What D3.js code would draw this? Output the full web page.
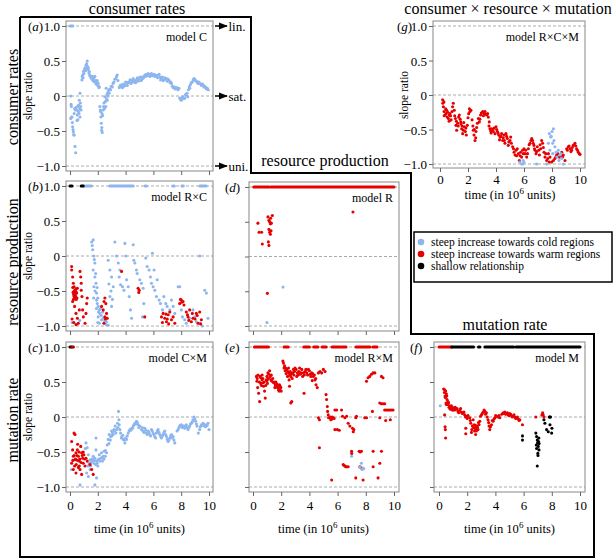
<!DOCTYPE html>
<html><head><meta charset="utf-8">
<script src="https://cdn.jsdelivr.net/npm/d3@7"></script>
<style>body{margin:0;background:#fff}svg text{font-family:"Liberation Serif","DejaVu Serif",serif;fill:#000}</style>
</head><body><svg id="c" width="613" height="559"></svg>
<script>
const xTicks=[0,2,4,6,8,10];
const yTicks=[-1,-0.5,0,0.5,1];
const yTickLabels=["\u22121.0","\u22120.5","0","0.5","1.0"];
const refLines=[-1,0,1];
const legendLabels=["steep increase towards cold regions","steep increase towards warm regions","shallow relationship"];

// (a) model C
const aBlue=[[0.05,0.0],[0.08,-0.12],[0.1,-0.15],[0.12,-0.3],[0.14,-0.3],[0.05,-0.32],[0.17,-0.38],[0.19,-0.44],[0.22,-0.48],[0.24,-0.51],[0.27,-0.55],[0.29,-0.56],[0.36,-0.72],[0.41,-0.81],[0.3,-0.25],[0.33,-0.18],[0.38,-0.2],[0.45,-0.16],[0.48,-0.2],[0.5,-0.35],[0.53,-0.27],[0.55,-0.15],[0.57,-0.34],[0.6,-0.22],[0.62,-0.13],[0.65,-0.25],[0.67,-0.06],[0.7,-0.18],[0.72,0.04],[0.75,-0.1],[0.77,-0.15],[0.72,-0.3],[0.8,-0.2],
[0.86,0.23],[0.88,0.28],[0.91,0.3],[0.94,0.26],[0.96,0.35],[1.0,0.32],[1.05,0.38],[1.08,0.4],[1.12,0.36],[1.15,0.44],[1.18,0.4],[1.2,0.46],[1.24,0.5],[1.27,0.42],[1.3,0.38],[1.32,0.4],[1.36,0.33],[1.39,0.35],[1.42,0.3],[1.44,0.29],[1.5,0.26],[1.56,0.25],[1.6,0.28],[1.64,0.22],[1.67,0.23],[1.72,0.26],[1.76,0.2],[1.79,0.28],[1.84,0.22],[1.88,0.17],[1.91,0.2],[1.96,0.22],[2.0,0.15],[2.03,0.18],[2.08,0.12],[2.11,0.13],
[2.15,-0.15],[2.18,-0.2],[2.2,-0.22],[2.22,-0.3],[2.25,-0.39],[2.27,-0.49],[2.29,-0.45],[2.32,-0.52],[2.3,-0.25],[2.35,-0.28],[2.39,-0.2],[2.42,-0.15],[2.44,-0.1],[2.48,-0.18],[2.51,-0.01],[2.55,-0.08],[2.58,-0.15],[2.6,0.11],[2.63,-0.04],[2.66,0.02],[2.68,-0.06],[2.72,0.05],[2.75,0.0],[2.78,0.08],[2.82,0.04],
[2.86,0.1],[2.92,0.09],[2.97,0.14],[3.04,0.13],[3.1,0.18],[3.16,0.2],[3.22,0.24],[3.3,0.25],[3.35,0.28],[3.4,0.3],[3.45,0.22],
[3.54,0.12],[3.6,0.15],[3.66,0.13],[3.71,0.16],[3.78,0.12],[3.85,0.17],[3.88,0.14],[3.95,0.15],[4.0,0.2],[4.07,0.18],[4.13,0.15],[4.2,0.2],[4.26,0.19],[4.32,0.23],[4.38,0.18],[4.43,0.22],[4.5,0.2],[4.55,0.25],[4.59,0.2],[4.66,0.22],[4.72,0.19],[4.78,0.23],[4.85,0.26],[4.9,0.21],[4.98,0.24],[5.05,0.27],[5.1,0.22],[5.14,0.23],[5.2,0.27],[5.25,0.25],[5.31,0.27],[5.38,0.3],[5.44,0.28],[5.5,0.31],[5.56,0.29],[5.62,0.32],[5.69,0.3],[5.75,0.28],[5.8,0.31],[5.86,0.32],[5.92,0.29],[5.98,0.3],[6.03,0.31],[6.1,0.28],[6.16,0.3],[6.22,0.29],[6.3,0.26],[6.36,0.3],[6.41,0.31],[6.48,0.27],[6.52,0.23],[6.58,0.25],[6.64,0.27],[6.7,0.22],[6.75,0.23],[6.82,0.26],[6.88,0.24],[6.94,0.25],[7.0,0.21],[7.06,0.24],[7.13,0.22],[7.2,0.19],[7.25,0.2],[7.3,0.18],[7.36,0.14],[7.42,0.12],[7.5,0.13],[7.56,0.1],[7.61,0.11],[7.68,0.12],[7.72,0.1],[7.78,0.09],[7.84,0.11],[7.89,-0.03],[7.95,-0.05],[8.01,-0.06],[8.07,-0.02],[8.13,-0.01],[8.19,-0.04],[8.25,-0.03],[8.31,0.02],[8.37,0.01],[8.42,0.04],[8.47,-0.01],[8.52,0.09],[8.58,0.13],[8.62,0.11],[8.66,0.16],[8.72,0.19],[8.8,0.2],[8.86,0.23],[8.92,0.25],[8.97,0.24],[9.03,0.22],[9.1,0.21],[9.14,0.2],[9.2,0.18],[9.27,0.2],[9.33,0.18],[9.4,0.17],[9.46,0.15],[9.52,0.17],[9.57,0.16],[9.63,0.13],[9.7,0.14],[9.76,0.12],[9.82,0.1],[9.88,0.11],[9.95,0.09]];
const aOnesBlue=[[0.0,0.2]];

// (b) model R x C
const bRed=[[0.12,-0.15],[0.12,-0.2],[0.19,-0.3],[0.24,-0.39],[0.29,-0.44],[0.36,-0.49],[0.43,-0.51],[0.48,-0.53],[0.53,-0.46],[0.38,-0.56],[0.29,-0.58],[0.19,-0.65],[0.33,-0.72],[0.43,-0.82],[0.6,-0.96],[0.53,-0.89],[0.67,-0.77],[0.72,-0.22],[0.77,-0.3],[0.81,-0.39],[0.81,-0.49],[0.86,-0.58],[0.91,-0.77],[0.96,-0.87],[1.08,-0.96],[1.15,-0.82],[1.24,-0.6],[1.2,-0.68],
[0.22,-0.52],[0.26,-0.55],[0.3,-0.5],[0.33,-0.6],[0.4,-0.58],[0.45,-0.62],[0.2,-0.45],[0.25,-0.62],[0.35,-0.53],[0.42,-0.47],[0.5,-0.6],[0.15,-0.9],[0.27,-0.95],[0.45,-0.98],
[2.27,-0.72],[2.39,-0.77],[2.51,-0.6],[2.58,-0.68],[2.51,-0.87],[2.63,-0.82],[2.68,-0.89],[2.44,-0.96],[2.45,-0.65],[2.55,-0.9],
[3.71,-0.22],[4.9,-0.46],[4.98,-0.49],[4.95,-0.52],[5.38,-0.87],[6.58,-0.87],[6.7,-0.82],[6.82,-0.89],[6.94,-0.94],[7.06,-0.84],[7.18,-0.8],[7.3,-0.91],[7.42,-0.87],[7.54,-0.96],[7.89,-0.68],[8.01,-0.63],[8.13,-0.65],[8.37,-0.8],[8.49,-0.87],[8.61,-0.77],[8.73,-0.94],[8.85,-0.89],[9.09,-0.82],[9.21,-0.96],[9.33,-0.8],[9.45,-0.91],
[6.65,-0.95],[6.9,-0.83],[7.0,-0.9],[7.1,-0.97],[7.95,-0.62],[8.05,-0.66],[8.2,-0.7],[8.45,-0.84],[8.55,-0.92],[8.8,-0.82],[9.0,-0.9],[9.15,-0.85],[9.4,-0.97]];
const bBlue=[[0.15,-0.95],[0.4,-0.98],[0.7,-0.92],
[1.56,0.2],[1.67,0.23],[1.63,0.09],[1.72,0.0],[1.79,-0.1],[1.67,-0.2],[1.79,-0.3],[1.87,-0.39],[1.72,-0.44],[1.91,-0.53],[1.91,-0.63],[1.96,-0.68],[2.03,-0.72],[2.11,-0.77],[2.15,-0.82],[2.03,-0.87],[2.11,-0.96],[2.27,-0.91],[2.39,-0.89],[2.63,-0.94],[2.75,-0.99],
[1.6,0.15],[1.75,-0.05],[1.85,-0.25],[1.95,-0.45],[2.0,-0.6],[2.05,-0.8],[2.2,-0.75],[2.25,-0.85],[2.35,-0.8],[2.0,-0.95],[2.5,-0.93],[2.6,-0.98],[1.8,-0.5],[1.9,-0.75],[1.7,-0.6],
[2.75,-0.06],[2.87,-0.2],[2.99,-0.3],[3.11,-0.44],[2.87,-0.58],[2.99,-0.72],[2.8,-0.4],[2.95,-0.5],[3.05,-0.62],
[3.23,0.2],[3.35,0.0],[3.47,-0.1],[3.59,-0.2],[3.54,-0.3],[3.64,-0.41],[3.78,-0.44],[3.88,-0.49],[3.95,0.18],[4.02,0.0],[4.07,-0.34],[4.19,-0.44],[4.26,-0.58],[4.35,-0.77],[4.43,-0.89],[4.55,0.16],[4.59,-0.06],
[4.67,-0.1],[4.78,-0.2],[4.83,-0.25],[5.02,-0.34],[5.14,-0.39],[5.26,-0.46],[5.31,-0.68],[5.22,-0.87],[5.45,-0.03],[5.55,-0.15],[5.69,-0.2],[5.79,-0.3],[5.86,-0.39],[5.93,0.04],[5.98,-0.44],[6.05,-0.2],
[6.1,-0.49],[6.22,-0.58],[6.27,-0.34],[6.41,-0.63],[6.51,-0.68],[6.65,-0.77],[6.75,-0.58],[6.89,-0.68],[6.99,-0.72],[7.18,-0.77],[7.3,-0.63],[7.42,-0.72],[7.54,-0.82],
[7.78,-0.44],[7.89,-0.44],[8.01,-0.77],[8.09,-0.87],[8.25,-0.91],[8.37,-0.96],[8.61,-0.89],[8.85,-0.77],[8.97,-0.87],[9.09,-0.94],[9.33,-0.96],[9.52,-1.0],[9.69,-0.49],[9.81,-0.53],[9.93,-0.89],[9.33,0.0]];
const bOnesBlack=[[0.0,0.15],[0.8,0.95]];
const bOnesBlue=[[0.95,1.55],[2.85,4.55],[5.4,5.5],[7.4,7.5],[8.05,8.15],[9.35,9.8]];

// (c) model C x M
const cRed=[[0.12,-0.35],[0.29,-0.23],[0.36,-0.25],[0.19,-0.47],[0.24,-0.56],[0.12,-0.66],[0.36,-0.61],[0.43,-0.51],[0.53,-0.47],[0.6,-0.56],[0.67,-0.63],[0.72,-0.75],[0.77,-0.42],[0.84,-0.51],[0.91,-0.59],[0.96,-0.66],[1.0,-0.54],[1.08,-0.7],[0.84,-0.82],[0.43,-0.8],[0.24,-0.75],[0.55,-0.39],[0.67,-0.7],[1.15,-0.59],[1.24,-0.63],[1.44,-0.68],[1.56,-0.75],[1.67,-0.82],
[0.3,-0.55],[0.4,-0.6],[0.45,-0.68],[0.5,-0.55],[0.55,-0.62],[0.65,-0.5],[0.7,-0.6],[0.8,-0.65],[0.88,-0.55],[0.2,-0.62],[0.33,-0.7],[0.6,-0.72],[1.05,-0.6],[0.95,-0.5]];
const cBlue=[[0.1,-0.75],[0.72,-0.97],
[1.15,-0.37],[1.24,-0.44],[1.32,-0.54],[1.39,-0.66],[1.44,-0.61],[1.48,-0.7],[1.56,-0.63],[1.67,-0.56],[1.72,-0.66],[1.79,-0.59],[1.87,-0.47],[1.91,-0.63],[1.96,-0.66],[2.03,-0.61],[2.11,-0.54],[2.15,-0.63],[2.22,-0.59],[2.27,-0.51],[2.34,-0.63],[2.39,-0.56],[2.46,-0.49],[2.54,-0.56],[2.63,-0.51],[2.68,-0.4],[1.79,-0.97],[1.91,-0.87],[1.32,-0.85],[1.2,-0.8],[1.87,-0.3],
[1.3,-0.7],[1.5,-0.65],[1.6,-0.6],[1.75,-0.62],[1.85,-0.68],[2.0,-0.7],[2.08,-0.6],[2.3,-0.58],[2.45,-0.6],[2.55,-0.48],[1.45,-0.75],[1.1,-0.45],
[2.75,-0.32],[2.82,-0.25],[2.92,-0.28],[2.99,-0.2],[3.06,-0.23],[3.16,-0.18],[3.25,-0.13],[3.35,-0.18],[3.42,-0.09],[3.49,0.08],[3.54,-0.11],[3.59,-0.18],[2.8,-0.38],[2.9,-0.33],[3.0,-0.27],[3.1,-0.25],[3.2,-0.2],[3.3,-0.23],[3.45,-0.15],[3.52,-0.04],
[3.64,-0.23],[3.73,-0.28],[3.83,-0.32],[3.95,-0.37],[4.07,-0.32],[4.19,-0.23],[4.31,-0.18],[4.43,-0.16],[4.55,-0.13],[4.67,-0.09],[4.78,-0.06],[4.9,-0.11],[5.02,-0.13],[3.7,-0.3],[3.8,-0.26],[3.9,-0.33],[4.0,-0.3],[4.12,-0.27],[4.25,-0.2],[4.38,-0.19],[4.5,-0.16],[4.6,-0.11],[4.72,-0.1],[4.85,-0.08],[4.95,-0.15],
[5.14,-0.18],[5.26,-0.2],[5.38,-0.16],[5.5,-0.23],[5.62,-0.2],[5.74,-0.25],[5.86,-0.18],[5.98,-0.23],[6.1,-0.28],[6.22,-0.23],[6.34,-0.18],[6.46,-0.25],[5.2,-0.15],[5.32,-0.22],[5.45,-0.19],[5.56,-0.25],[5.68,-0.22],[5.8,-0.27],[5.92,-0.2],[6.04,-0.25],[6.16,-0.3],[6.28,-0.2],[6.4,-0.22],[6.52,-0.28],
[6.58,-0.3],[6.7,-0.25],[6.82,-0.2],[6.94,-0.28],[7.06,-0.35],[7.18,-0.3],[7.3,-0.25],[7.42,-0.28],[7.54,-0.37],[6.64,-0.27],[6.76,-0.22],[6.88,-0.25],[7.0,-0.32],[7.12,-0.33],[7.24,-0.27],[7.36,-0.3],[7.48,-0.33],
[7.78,-0.18],[7.89,-0.13],[8.01,-0.11],[8.13,-0.13],[8.25,-0.16],[8.37,-0.11],[8.49,-0.18],[8.61,-0.13],[8.73,-0.09],[8.85,-0.04],[8.92,0.0],[9.04,-0.06],[9.14,-0.13],[9.23,-0.23],[9.33,-0.18],[9.45,-0.11],[9.57,-0.09],[9.69,-0.13],[9.81,-0.11],[9.93,-0.09],[10.0,-0.18],[7.7,-0.2],[7.84,-0.15],[7.95,-0.12],[8.07,-0.15],[8.2,-0.13],[8.3,-0.14],[8.43,-0.15],[8.55,-0.15],[8.67,-0.1],[8.8,-0.07],[8.98,-0.03],[9.1,-0.1],[9.38,-0.14],[9.5,-0.12],[9.62,-0.1],[9.75,-0.14],[9.87,-0.12]];
const cOnesBlack=[[0.0,0.12]];
const cOnesRed=[[0.14,0.25]];

// (d) model R
const dRed=[[0.35,0.48],[0.43,0.35],[0.61,0.35],[0.66,0.18],[1.06,0.57],[1.13,0.52],[1.18,0.5],[1.23,0.47],[1.25,0.55],[1.3,0.48],[1.37,0.59],[1.13,0.39],[1.18,0.35],[1.23,0.32],[1.09,0.21],[1.13,0.16],[1.28,0.37],[7.09,0.64],[1.02,-0.53]];
const dBlue=[[2.13,-0.44],[0.99,-0.95]];
const dOnesRed=[[0.05,1.13],[1.25,10.0]];

// (e) model R x M
const eRed=[[0.24,0.58],[0.28,0.51],[0.33,0.42],[0.4,0.34],[0.47,0.22],[0.56,0.56],[0.64,0.53],[0.71,0.49],[0.75,0.44],[0.82,0.37],[0.87,0.27],[0.94,0.53],[0.99,0.58],
[1.06,0.63],[1.13,0.61],[1.22,0.58],[1.27,0.53],[1.34,0.51],[1.46,0.49],[1.58,0.46],[1.65,0.44],[1.74,0.42],[1.81,0.39],[1.88,0.46],[1.93,0.44],[2.0,0.37],
[0.3,0.55],[0.45,0.5],[0.5,0.58],[0.6,0.45],[0.7,0.55],[0.8,0.5],[0.9,0.45],[1.0,0.52],[1.1,0.55],[1.18,0.66],[1.3,0.6],[1.4,0.55],[1.5,0.5],[1.55,0.42],[1.62,0.5],[1.7,0.47],[1.78,0.45],[1.85,0.37],[1.9,0.4],[1.97,0.42],[0.35,0.6],[0.55,0.48],[0.65,0.6],[1.02,0.48],
[2.12,0.8],[2.16,0.77],[2.24,0.73],[2.31,0.7],[2.4,0.68],[2.47,0.65],[2.54,0.63],[2.64,0.65],[2.68,0.58],[2.75,0.22],[2.68,0.2],[2.82,0.63],[2.87,0.68],[2.94,0.65],[2.59,0.44],
[2.2,0.7],[2.28,0.66],[2.35,0.62],[2.45,0.58],[2.52,0.7],[2.6,0.6],[2.72,0.62],[2.78,0.55],[2.9,0.6],[2.98,0.7],[2.56,0.53],
[3.06,0.68],[3.15,0.63],[3.25,0.65],[3.34,0.61],[3.46,0.68],[3.58,0.63],[3.62,0.34],[3.69,0.65],[3.81,0.63],[3.93,0.68],[4.05,0.61],[4.16,0.63],[4.28,0.58],[4.4,0.53],[4.47,0.46],
[3.1,0.58],[3.2,0.6],[3.3,0.7],[3.4,0.63],[3.52,0.58],[3.64,0.6],[3.75,0.68],[3.87,0.6],[4.0,0.66],[4.1,0.58],[4.22,0.62],[4.35,0.6],[4.45,0.55],[4.2,0.52],
[4.64,0.63],[4.75,0.65],[4.87,0.63],[4.99,0.68],[5.11,0.65],[4.56,0.42],[4.64,-0.01],[4.71,-0.04],[4.71,-0.44],[5.18,0.32],[5.22,0.25],[5.27,0.15],[5.29,0.08],[5.34,0.03],[5.36,-0.01],
[5.46,-0.01],[5.58,-0.03],[5.69,-0.01],[5.81,0.1],[5.81,-0.18],[5.93,0.1],[5.98,-0.18],[6.12,-0.19],[6.28,0.1],[6.35,0.01],[5.58,-0.9],[6.4,-0.68],[6.52,-0.7],[6.64,-0.71],[6.75,-0.71],[6.52,-0.01],[6.64,0.01],[6.75,-0.09],[6.87,-0.13],
[5.5,0.0],[5.52,-0.04],[5.62,0.0],[5.75,-0.02],[6.45,-0.69],[6.58,-0.71],
[6.99,-0.49],[7.06,-0.16],[7.11,-0.21],[7.15,-0.18],[7.29,-0.01],[7.34,0.01],[7.29,-0.87],[7.53,-0.49],[7.69,-0.49],[7.58,-0.71],[7.69,-0.73],[7.81,-0.9],[7.93,-0.01],[8.05,-0.01],[7.0,-0.52],[7.6,-0.5],
[8.05,0.51],[8.16,0.56],[8.28,0.58],[8.4,0.61],[8.52,0.63],[8.64,0.63],[8.47,0.08],[8.52,-0.49],[8.52,-0.71],[8.87,-0.87],[8.99,-0.01],[9.11,-0.49],[8.99,-0.66],[9.11,0.58],[9.22,0.56],
[8.99,0.2],[9.11,0.19],[9.22,0.19],[9.34,0.19],[9.34,0.1],[9.41,-0.05],[9.46,0.1],[9.58,0.1],[9.69,0.1],[9.81,0.1],[9.93,0.1],[9.74,-0.04]];
const eBlue=[[6.99,-0.56],[7.58,-0.72],[7.69,-0.66],[7.81,-0.73],[7.74,-0.75],[7.86,-0.74]];
const eOnesRed=[[0.1,1.1],[2.2,2.5],[3.6,4.0],[4.3,4.6],[4.9,5.2],[5.6,6.2],[6.3,6.6],[7.3,8.3],[8.5,8.8]];

// (f) model M
const fRed=[[0.33,0.4],[0.4,0.39],[0.47,0.37],[0.52,0.33],[0.43,0.3],[0.57,0.25],[0.64,0.22],[0.52,0.18],[0.4,0.03],[0.43,-0.14],[0.45,-0.18],[0.47,-0.3],[0.71,0.14],[0.81,0.11],[0.88,0.16],[0.95,0.1],[1.04,0.13],
[0.38,0.35],[0.45,0.28],[0.5,0.2],[0.6,0.18],[0.68,0.2],[0.75,0.16],[0.78,0.12],[0.85,0.14],[0.92,0.13],[1.0,0.1],[0.55,0.3],
[1.11,0.1],[1.23,0.11],[1.35,0.08],[1.47,0.1],[1.59,0.07],[1.71,0.06],[1.82,0.03],[1.94,0.01],[1.9,-0.16],[1.9,-0.24],[2.06,0.02],
[1.15,0.14],[1.28,0.12],[1.4,0.06],[1.53,0.12],[1.65,0.05],[1.77,0.07],[1.88,0.0],[2.0,-0.02],
[2.18,-0.01],[2.25,-0.09],[2.3,-0.22],[2.37,-0.13],[2.42,-0.04],[2.49,-0.11],[2.56,-0.16],[2.61,-0.18],[2.7,-0.13],[2.77,-0.18],[2.84,-0.11],[2.89,-0.06],[2.94,0.01],
[2.22,-0.05],[2.33,-0.18],[2.45,-0.15],[2.52,-0.2],[2.58,-0.12],[2.65,-0.2],[2.73,-0.15],[2.8,-0.08],[2.6,-0.25],
[3.01,0.03],[3.13,0.07],[3.25,0.08],[3.36,0.06],[3.48,-0.04],[3.55,-0.13],[3.6,-0.18],[3.72,-0.11],[3.84,-0.06],[3.96,-0.01],[4.08,0.01],
[3.07,0.05],[3.2,0.1],[3.3,0.04],[3.42,0.0],[3.52,-0.08],[3.65,-0.14],[3.78,-0.05],[3.9,-0.03],[4.02,0.02],
[4.19,0.0],[4.31,-0.01],[4.55,0.06],[4.67,0.07],[4.79,0.05],[4.91,0.03],[5.02,0.05],[5.14,0.02],[5.26,0.01],[5.38,0.0],[5.5,-0.01],[5.62,-0.03],[5.73,-0.04],[5.92,-0.11],
[4.25,0.02],[4.45,0.04],[4.6,0.05],[4.73,0.04],[4.85,0.06],[4.97,0.02],[5.08,0.04],[5.2,0.0],[5.32,0.03],[5.44,-0.02],[5.56,0.0],[5.68,-0.05],
[6.87,0.0],[7.35,0.06],[7.39,0.03],[7.44,0.0],[7.3,0.03]];
const fBlack=[[5.92,-0.27],[5.92,-0.33],[6.87,-0.23],[6.92,-0.28],[6.97,-0.33],[6.99,-0.37],[7.04,-0.42],[7.09,-0.47],[7.01,-0.52],[7.06,-0.35],[6.92,-0.45],[6.97,-0.7],[7.44,-0.04],[7.51,-0.09],[7.63,-0.18],[7.75,-0.21],[7.82,0.0],[7.91,0.0],[7.87,-0.11],[7.99,-0.23],[8.01,-0.16],[6.9,-0.4],[7.08,-0.3],[7.02,-0.55],[7.1,-0.38],[7.86,0.0]];
const fBlue=[[0.09,0.16]];
const fOnesRed=[[0.0,0.9]];
const fOnesBlack=[[0.9,2.45],[2.8,2.9],[3.25,5.3],[5.45,10.0]];

// (g) model R x C x M
const gRed=[[0.19,-0.07],[0.24,-0.17],[0.29,-0.24],[0.36,-0.29],[0.43,-0.27],[0.48,-0.22],[0.52,-0.32],[0.6,-0.34],[0.67,-0.29],[0.71,-0.27],[0.79,-0.36],[0.86,-0.24],[0.9,-0.17],[0.95,-0.12],
[1.02,-0.22],[1.1,-0.34],[1.14,-0.44],[1.19,-0.51],[1.26,-0.41],[1.33,-0.32],[1.38,-0.29],[1.48,-0.39],[1.55,-0.49],[1.62,-0.56],[1.67,-0.51],[1.74,-0.46],[1.81,-0.53],[1.88,-0.58],[1.95,-0.44],
[2.05,-0.27],[2.14,-0.24],[2.21,-0.22],[2.29,-0.36],[2.38,-0.51],[2.43,-0.58],[2.5,-0.66],[2.57,-0.53],[2.67,-0.41],[2.74,-0.34],[2.81,-0.39],[2.9,-0.29],
[3.05,-0.24],[3.14,-0.27],[3.21,-0.24],[3.33,-0.29],[3.45,-0.32],[3.52,-0.39],[3.57,-0.49],[3.62,-0.52],[3.69,-0.49],[3.81,-0.53],[3.93,-0.56],[4.0,-0.46],
[4.1,-0.53],[4.19,-0.58],[4.29,-0.61],[4.4,-0.56],[4.48,-0.66],[4.57,-0.58],[4.64,-0.7],[4.71,-0.56],[4.81,-0.63],[4.88,-0.73],[5.0,-0.66],[5.05,-0.61],
[5.19,-0.75],[5.29,-0.83],[5.36,-0.87],[5.43,-0.8],[5.52,-0.78],[5.6,-0.85],[5.67,-0.95],[5.76,-0.83],[5.83,-0.9],[5.9,-0.8],
[6.0,-0.78],[6.07,-0.85],[6.19,-0.9],[6.31,-0.78],[6.43,-0.7],[6.55,-0.63],[6.62,-0.66],[6.71,-0.73],[6.79,-0.8],[6.86,-0.85],[6.95,-0.75],
[7.1,-0.87],[7.19,-0.78],[7.26,-0.66],[7.33,-0.7],[7.43,-0.83],[7.5,-0.9],[7.62,-0.95],[7.74,-0.85],[7.86,-0.9],[7.98,-0.97],
[8.21,-0.92],[8.33,-0.87],[8.52,-0.9],[8.69,-0.83],[8.81,-0.87],[8.93,-0.95],[9.05,-0.78],[9.17,-0.75],[9.29,-0.78],[9.4,-0.8],[9.52,-0.73],[9.64,-0.7],[9.76,-0.78],[9.88,-0.83],[10.0,-0.86],
[0.3,-0.3],[0.4,-0.2],[0.55,-0.25],[0.65,-0.38],[0.75,-0.3],[0.2,-0.12],[0.28,-0.1],[1.05,-0.3],[1.17,-0.38],[1.3,-0.45],[1.44,-0.35],[1.5,-0.42],[1.58,-0.45],[1.7,-0.4],[1.85,-0.48],[2.0,-0.33],[2.1,-0.2],[2.35,-0.45],[2.45,-0.5],[2.55,-0.62],[2.62,-0.47],[2.85,-0.35],[2.95,-0.26],[3.1,-0.3],[3.27,-0.28],[3.4,-0.27],[3.5,-0.45],[3.65,-0.55],[3.75,-0.5],[3.87,-0.48],[4.05,-0.5],[4.15,-0.55],[4.25,-0.65],[4.35,-0.6],[4.52,-0.62],[4.6,-0.66],[4.76,-0.6],[4.92,-0.68],[5.1,-0.7],[5.25,-0.78],[5.47,-0.88],[5.72,-0.88],[5.95,-0.85],[6.12,-0.8],[6.25,-0.85],[6.37,-0.72],[6.5,-0.66],[6.66,-0.7],[6.75,-0.78],[6.9,-0.82],[7.05,-0.8],[7.15,-0.72],[7.38,-0.76],[7.55,-0.85],[7.7,-0.92],[7.8,-0.97],[8.1,-0.95],[8.27,-0.9],[8.4,-0.85],[8.6,-0.88],[8.75,-0.9],[9.1,-0.8],[9.22,-0.74],[9.35,-0.82],[9.45,-0.76],[9.58,-0.72],[9.7,-0.74],[9.82,-0.8],[9.95,-0.85]];
const gBlue=[[5.71,-0.97],[5.83,-1.0],[5.95,-0.95],[6.9,-1.0],[7.62,-1.0],[7.81,-0.56],[7.9,-0.61],[8.0,-0.53],[8.1,-0.49],[8.14,-0.66],[8.21,-0.75],[8.29,-0.83],[8.45,-0.8],[8.57,-0.87],[8.69,-0.92],[8.81,-1.0],[7.74,-0.7],[7.95,-0.6],[8.05,-0.7],[8.35,-0.9],[8.5,-0.95],[8.62,-0.85],[7.85,-0.8],[8.05,-0.85],[5.9,-1.0],[6.0,-0.98]];

const BLUE="#8db6ef", RED="#e60000", BLACK="#000";
const svg=d3.select("#c");

// outer staircase frame
svg.append("path").attr("d",d3.line()([[20,17],[251,17],[251,173],[411,173],[411,334],[594,334],[594,557],[20,557],[20,17]]))
  .attr("fill","none").attr("stroke","#000").attr("stroke-width",2);

function panel(cfg){
  const g=svg.append("g");
  const xs=d3.scaleLinear().domain([0,10]).range(cfg.xr);
  const ys=d3.scaleLinear().domain([-1,1]).range(cfg.yr);
  const [bl,bt,br,bb]=cfg.box;
  refLines.forEach(v=>g.append("line").attr("x1",bl).attr("x2",br).attr("y1",ys(v)).attr("y2",ys(v))
    .attr("stroke","#aaa").attr("stroke-dasharray","3,2").attr("stroke-width",1));
  g.append("rect").attr("x",bl).attr("y",bt).attr("width",br-bl).attr("height",bb-bt)
    .attr("fill","none").attr("stroke","#888").attr("stroke-width",1);
  const xa=g.append("g").attr("transform",`translate(0,${bb})`)
    .call(d3.axisBottom(xs).tickValues(xTicks).tickSize(4).tickSizeOuter(0).tickFormat(d=>cfg.xLabels?String(d):""));
  const ya=g.append("g").attr("transform",`translate(${bl},0)`)
    .call(d3.axisLeft(ys).tickValues(yTicks).tickSize(4).tickSizeOuter(0).tickFormat((d,i)=>cfg.yLabels?yTickLabels[i]:""));
  [xa,ya].forEach(a=>{a.select(".domain").remove();a.selectAll("line").attr("stroke","#666");
    a.selectAll("text").style("font-family",'"Liberation Serif",serif').style("font-size","13px").attr("fill","#000");});
  if(cfg.xLabels) xa.selectAll("text").attr("dy",null).attr("y",cfg.xLabelY-bb);
  ya.selectAll("text").attr("x",-6).attr("dy","0.35em");
  (cfg.ones||[]).forEach(o=>o.runs.forEach(r=>g.append("line").attr("x1",xs(r[0])).attr("x2",xs(r[1]))
    .attr("y1",ys(1)).attr("y2",ys(1)).attr("stroke",o.color).attr("stroke-width",3).attr("stroke-linecap","round")));
  cfg.series.forEach(s=>g.selectAll(null).data(s.data).join("circle")
    .attr("cx",d=>xs(d[0])).attr("cy",d=>ys(d[1])).attr("r",1.55).attr("fill",s.color));
  const lab=g.append("text").attr("x",cfg.labelX).attr("y",ys(1)+4.5).style("font-size","13px");
  lab.append("tspan").text("(");
  lab.append("tspan").style("font-style","italic").text(cfg.label);
  lab.append("tspan").text(")");
  g.append("text").attr("x",br-6).attr("y",ys(1)+15).attr("text-anchor","end").style("font-size","12px").text(cfg.model);
  if(cfg.slopeX) g.append("text").attr("transform",`translate(${cfg.slopeX},${(ys(1)+ys(-1))/2}) rotate(-90)`)
    .attr("text-anchor","middle").style("font-size","11.5px").text("slope ratio");
  if(cfg.titleY){
    const t=g.append("text").attr("x",(xs(0)+xs(10))/2).attr("y",cfg.titleY).attr("text-anchor","middle").style("font-size","12.5px");
    t.append("tspan").text("time (in 10");
    t.append("tspan").attr("dy",-5).style("font-size","9px").text("6");
    t.append("tspan").attr("dy",5).text(" units)");
  }
  return {xs,ys};
}

const A=panel({xr:[70,209],yr:[166,26],box:[66,21,213,171],label:"a",labelX:28,model:"model C",yLabels:true,slopeX:32,
  series:[{data:aBlue,color:BLUE}],ones:[{runs:aOnesBlue,color:BLUE}]});
panel({xr:[70,209],yr:[326,186],box:[66,181,213,331],label:"b",labelX:28,model:"model R\u00d7C",yLabels:true,slopeX:32,
  series:[{data:bBlue,color:BLUE},{data:bRed,color:RED}],ones:[{runs:bOnesBlue,color:BLUE},{runs:bOnesBlack,color:BLACK}]});
panel({xr:[70,209],yr:[487,347],box:[66,342,213,492],label:"c",labelX:28,model:"model C\u00d7M",yLabels:true,slopeX:32,xLabels:true,xLabelY:510,titleY:533,
  series:[{data:cBlue,color:BLUE},{data:cRed,color:RED}],ones:[{runs:cOnesBlack,color:BLACK},{runs:cOnesRed,color:"#b00000"}]});
panel({xr:[253,394],yr:[326,187],box:[249,182,399,331],label:"d",labelX:225,model:"model R",
  series:[{data:dBlue,color:BLUE},{data:dRed,color:RED}],ones:[{runs:dOnesRed,color:RED}]});
panel({xr:[253,394],yr:[487,347],box:[249,342,399,492],label:"e",labelX:225,model:"model R\u00d7M",xLabels:true,xLabelY:510,titleY:533,
  series:[{data:eRed,color:RED},{data:eBlue,color:BLUE}],ones:[{runs:eOnesRed,color:RED}]});
panel({xr:[439,580],yr:[487,347],box:[434,342,585,492],label:"f",labelX:410,model:"model M",xLabels:true,xLabelY:510,titleY:533,
  series:[{data:fBlue,color:BLUE},{data:fRed,color:RED},{data:fBlack,color:BLACK}],ones:[{runs:fOnesRed,color:RED},{runs:fOnesBlack,color:BLACK}]});
panel({xr:[440,580],yr:[164,26],box:[433,21,585,168],label:"g",labelX:397,model:"model R\u00d7C\u00d7M",yLabels:true,slopeX:408,xLabels:true,xLabelY:184,titleY:199,
  series:[{data:gRed,color:RED},{data:gBlue,color:BLUE}],ones:[]});

// arrows for panel (a)
const arrowLabels=["lin.","sat.","uni."];
const arrowVals=[1,0,-1];
svg.append("defs").append("marker").attr("id","ah").attr("viewBox","0 0 10 10").attr("refX",9).attr("refY",5)
  .attr("markerWidth",6).attr("markerHeight",6).attr("orient","auto")
  .append("path").attr("d","M0,1 L10,5 L0,9 z").attr("fill","#000");
arrowVals.forEach((v,i)=>{
  const y=A.ys(v);
  svg.append("line").attr("x1",215).attr("x2",227).attr("y1",y).attr("y2",y).attr("stroke","#000").attr("stroke-width",1.5).attr("marker-end","url(#ah)");
  svg.append("text").attr("x",228.5).attr("y",y+4.5).style("font-size","13px").text(arrowLabels[i]);
});

// headers
const hdr=(x,y,t,rot)=>{const e=svg.append("text").attr("text-anchor","middle").style("font-size","16px").text(t);
  if(rot) e.attr("transform",`translate(${x},${y}) rotate(-90)`); else e.attr("x",x).attr("y",y);};
hdr(137,14,"consumer rates");
hdr(325,166,"resource production");
hdr(508,14,"consumer \u00d7 resource \u00d7 mutation");
hdr(505,330,"mutation rate");
hdr(18,97,"consumer rates",true);
hdr(18,262,"resource production",true);
hdr(18,420,"mutation rate",true);

// legend
svg.append("rect").attr("x",414).attr("y",232).attr("width",198).attr("height",50).attr("fill","#fff").attr("stroke","#000").attr("stroke-width",1.5);
const lc=[BLUE,RED,BLACK];
legendLabels.forEach((l,i)=>{
  svg.append("circle").attr("cx",421).attr("cy",242+i*12).attr("r",3.3).attr("fill",lc[i]);
  svg.append("text").attr("x",431).attr("y",245.5+i*12).style("font-size","11.5px").text(l);
});
</script></body></html>
